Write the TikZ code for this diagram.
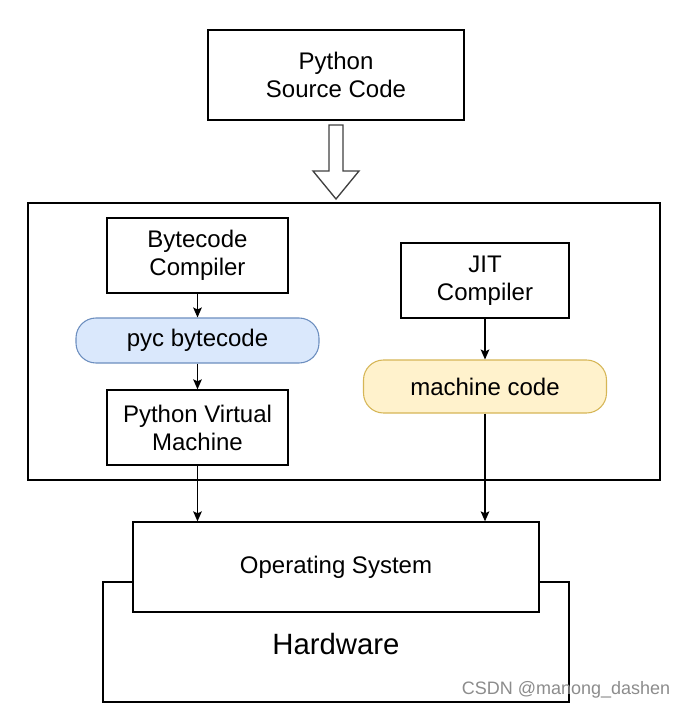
\documentclass[tikz,border=0pt]{standalone}
\usepackage{fontspec}
\setmainfont{Liberation Sans}
\usetikzlibrary{arrows.meta}
\definecolor{pycfill}{HTML}{DAE8FC}
\definecolor{pycline}{HTML}{6C8EBF}
\definecolor{mcfill}{HTML}{FFF2CC}
\definecolor{mcline}{HTML}{D6B656}
\tikzstyle{blk} = [rectangle, draw, line width=1pt, fill=white, align=center, inner sep=0pt, font=\fontsize{18}{21}\selectfont]
\tikzstyle{pill} = [rectangle, rounded corners=15pt, line width=0.8pt, inner sep=0pt, font=\fontsize{18}{21}\selectfont]
\tikzstyle{flow} = [line width=1pt, -{Stealth[length=7.5pt, width=6.5pt, inset=1.5pt]}]

\begin{document}
\begin{tikzpicture}[x=0.75pt, y=-0.75pt]

	\useasboundingbox (0,0) rectangle (683,710);

	\node[blk, minimum width=192pt, minimum height=67.5pt] (src) at (336,75) {Python\\Source Code};
	\draw[line width=1pt, draw=black!75, fill=white] (329,125) -- (343,125) -- (343,171) -- (359,171) -- (336,199) -- (313,171) -- (329,171) -- cycle;

	\node[blk, minimum width=474pt, minimum height=207.75pt] (runtime) at (344,341.5) {};
	\node[blk, minimum width=135.75pt, minimum height=56.25pt] (bc) at (197.5,255.5) {Bytecode\\Compiler};
	\node[pill, fill=pycfill, draw=pycline, minimum width=182.25pt, minimum height=33.75pt] (pyc) at (197.5,340.5) {pyc bytecode};
	\node[blk, minimum width=135.75pt, minimum height=56.25pt] (pvm) at (197.5,427.5) {Python Virtual\\Machine};
	\node[blk, minimum width=126pt, minimum height=56.25pt] (jit) at (485,280.5) {JIT\\Compiler};
	\node[pill, fill=mcfill, draw=mcline, minimum width=182.25pt, minimum height=39.75pt] (mc) at (485,386.5) {machine code};

	\node[blk, minimum width=349.5pt, minimum height=90pt, font=\fontsize{22}{26}\selectfont, text depth=0pt] (hw) at (336,642) {\raisebox{-3pt}{Hardware}};
	\node[blk, minimum width=304.5pt, minimum height=67.5pt] (os) at (336,567) {Operating System};

	\draw[flow] (bc.south) -- (pyc.north);
	\draw[flow] (pyc.south) -- (pvm.north);
	\draw[flow] (jit.south) -- (mc.north);
	\draw[flow] (pvm.south) -- (pvm.south |- os.north);
	\draw[flow] (mc.south) -- (mc.south |- os.north);

	\node[text=black!45, font=\fontsize{13.5}{16}\selectfont] (wm) at (566,690) {CSDN @manong\_dashen};

\end{tikzpicture}
\end{document}
